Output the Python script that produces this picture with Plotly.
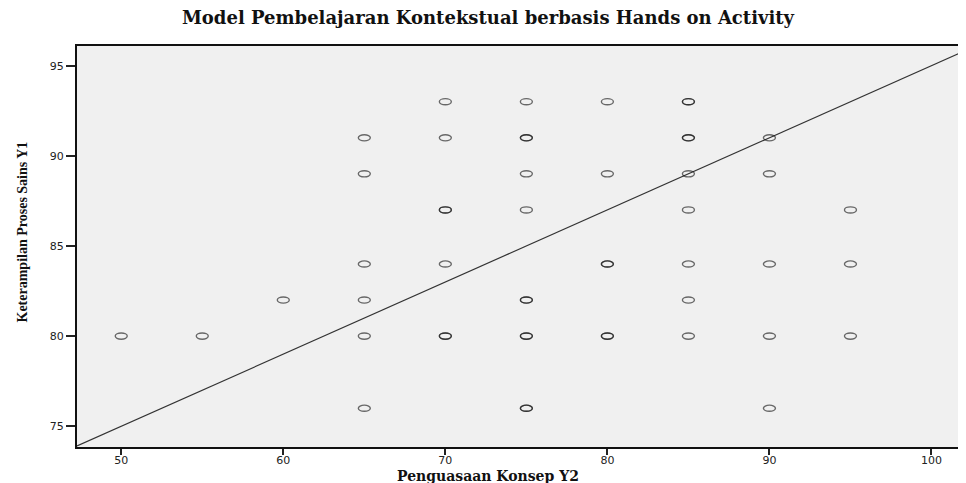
import plotly.graph_objects as go

penguasaan_konsep_y2 = [
    50, 55, 60,
    65, 65, 65, 65, 65, 65,
    70, 70, 70, 70, 70, 70, 70,
    75, 75, 75, 75, 75, 75, 75, 75, 75, 75, 75,
    80, 80, 80, 80, 80, 80,
    85, 85, 85, 85, 85, 85, 85, 85, 85,
    90, 90, 90, 90, 90,
    95, 95, 95,
]
keterampilan_proses_sains_y1 = [
    80, 80, 82,
    91, 89, 84, 82, 80, 76,
    93, 91, 87, 87, 84, 80, 80,
    93, 91, 91, 89, 87, 82, 82, 80, 76, 76, 80,
    93, 89, 84, 84, 80, 80,
    93, 93, 91, 91, 89, 87, 84, 82, 80,
    91, 89, 84, 80, 76,
    87, 84, 80,
]
fit_intercept = 55.0
fit_slope = 0.4

x_ticks = [50, 60, 70, 80, 90, 100]
y_ticks = [75, 80, 85, 90, 95]

title_text = "Model Pembelajaran Kontekstual berbasis Hands on Activity"
x_title = "Penguasaan Konsep Y2"
y_title = "Keterampilan Proses Sains Y1"

# ---- layout constants (page offset: the page body has an 8px margin) ----
OFF = 8
W, H = 966 - OFF, 483 - OFF
x_range = [47.27, 102.13]
y_range = [73.85, 96.09]
rx, ry = 0.37, 0.17  # half sizes of the elliptical markers (data units)

fig = go.Figure()

fit_x = list(x_range)
fit_y = [fit_intercept + fit_slope * v for v in fit_x]
fig.add_trace(go.Scatter(
    x=fit_x, y=fit_y, mode="lines",
    line=dict(color="#333333", width=1.2),
    showlegend=False, hoverinfo="skip",
))

shapes = []
for xv, yv in zip(penguasaan_konsep_y2, keterampilan_proses_sains_y1):
    shapes.append(dict(
        type="circle", xref="x", yref="y",
        x0=xv - rx, x1=xv + rx, y0=yv - ry, y1=yv + ry,
        line=dict(color="rgba(20,20,20,0.62)", width=1.4),
        fillcolor="rgba(0,0,0,0)", layer="above",
    ))

plot_l = 77 - OFF
plot_t = 46 - OFF
plot_bottom_page = 447
plot_b = 483 - plot_bottom_page
plot_w = W - plot_l
plot_h = H - plot_t - plot_b

fig.update_layout(
    width=W, height=H,
    margin=dict(l=plot_l, r=0, t=plot_t, b=plot_b, pad=0),
    paper_bgcolor="white",
    plot_bgcolor="#f0f0f0",
    shapes=shapes,
    title=dict(
        text=title_text, xref="container", x=(488 - OFF) / W, xanchor="center",
        yref="container", y=1 - (18 - OFF) / H, yanchor="middle",
        font=dict(family="DejaVu Serif", size=18, color="#111111", weight="bold"),
    ),
    xaxis=dict(
        range=x_range, tickvals=x_ticks, ticks="outside", ticklen=6, tickwidth=1.5,
        tickcolor="#222222", showline=True, linecolor="#111111", linewidth=2,
        mirror=True, showgrid=False, zeroline=False, ticklabelstandoff=-4,
        tickfont=dict(family="DejaVu Sans", size=11, color="#222222"),
    ),
    yaxis=dict(
        range=y_range, tickvals=y_ticks, ticks="outside", ticklen=9, tickwidth=1.5,
        tickcolor="#222222", showline=True, linecolor="#111111", linewidth=2,
        mirror=False, showgrid=False, zeroline=False,
        tickfont=dict(family="DejaVu Sans", size=11, color="#222222"),
    ),
    annotations=[
        dict(
            text=x_title, xref="paper", yref="paper",
            x=(488 - 77) / plot_w, y=0, xanchor="center", yanchor="top",
            yshift=-19, showarrow=False,
            font=dict(family="DejaVu Serif", size=14, color="#111111", weight="bold"),
        ),
        dict(
            text=y_title, xref="paper", yref="paper",
            x=(21.5 - 77) / plot_w, y=(plot_bottom_page - 232) / plot_h,
            xanchor="center", yanchor="middle", textangle=-90, showarrow=False,
            font=dict(family="Liberation Serif", size=14, color="#111111", weight="bold"),
        ),
    ],
)

fig.write_html("out.html")
